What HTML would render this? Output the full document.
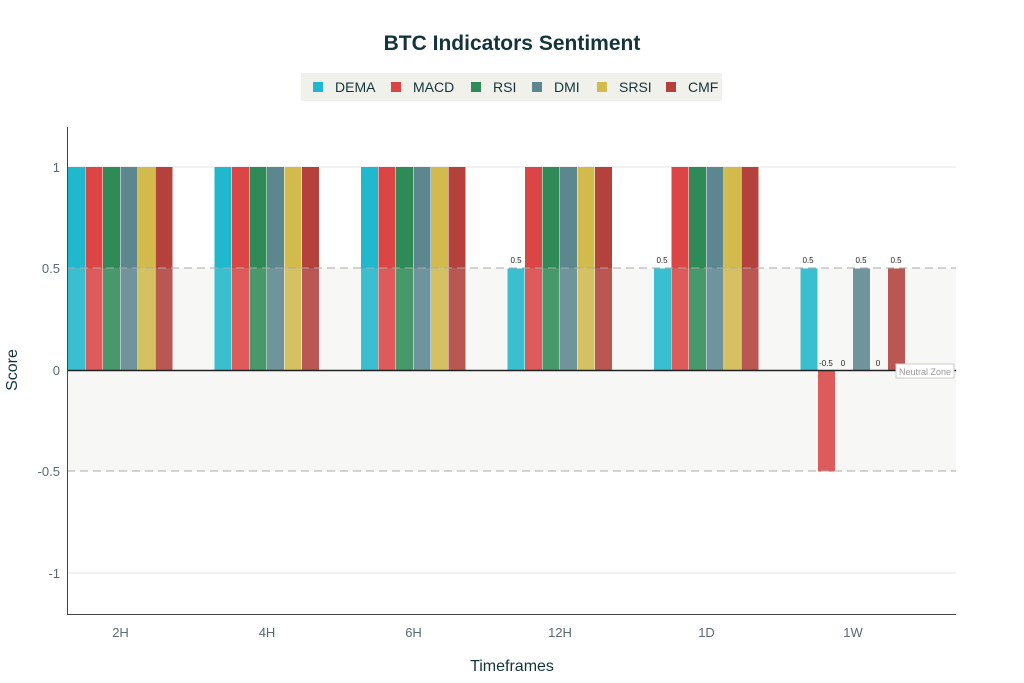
<!DOCTYPE html>
<html><head><style>body{margin:0;background:#fff}svg{display:block}text{font-family:"Liberation Sans",sans-serif}</style></head><body>
<svg width="1024" height="683" viewBox="0 0 1024 683">
<text x="512" y="50" text-anchor="middle" font-size="21" font-weight="bold" fill="#13343b">BTC Indicators Sentiment</text>
<rect x="301" y="73" width="421" height="28" fill="#f1f1ec"/>
<g font-size="14" fill="#13343b">
<rect x="313" y="82" width="10" height="10" fill="#1FB8CD"/><text x="335" y="92">DEMA</text>
<rect x="391" y="82" width="10" height="10" fill="#DB4545"/><text x="413" y="92">MACD</text>
<rect x="471" y="82" width="10" height="10" fill="#2E8B57"/><text x="493" y="92">RSI</text>
<rect x="532" y="82" width="10" height="10" fill="#5D878F"/><text x="554" y="92">DMI</text>
<rect x="597" y="82" width="10" height="10" fill="#D2BA4C"/><text x="619" y="92">SRSI</text>
<rect x="666" y="82" width="10" height="10" fill="#B4413C"/><text x="688" y="92">CMF</text>
</g>
<g stroke="#e3e3e3" stroke-width="1">
<line x1="67" x2="956" y1="167" y2="167"/><line x1="67" x2="956" y1="573" y2="573"/>
</g>
<rect x="67" y="268" width="889" height="203" fill="#f9f9f7"/>
<g>
<rect x="68" y="167" width="17" height="203" fill="#1FB8CD"/><rect x="85.5" y="167" width="17" height="203" fill="#DB4545"/><rect x="103" y="167" width="17" height="203" fill="#2E8B57"/><rect x="120.5" y="167" width="17" height="203" fill="#5D878F"/><rect x="138" y="167" width="17" height="203" fill="#D2BA4C"/><rect x="155.5" y="167" width="17" height="203" fill="#B4413C"/>
<rect x="214.5" y="167" width="17" height="203" fill="#1FB8CD"/><rect x="232" y="167" width="17" height="203" fill="#DB4545"/><rect x="249.5" y="167" width="17" height="203" fill="#2E8B57"/><rect x="267" y="167" width="17" height="203" fill="#5D878F"/><rect x="284.5" y="167" width="17" height="203" fill="#D2BA4C"/><rect x="302" y="167" width="17" height="203" fill="#B4413C"/>
<rect x="361" y="167" width="17" height="203" fill="#1FB8CD"/><rect x="378.5" y="167" width="17" height="203" fill="#DB4545"/><rect x="396" y="167" width="17" height="203" fill="#2E8B57"/><rect x="413.5" y="167" width="17" height="203" fill="#5D878F"/><rect x="431" y="167" width="17" height="203" fill="#D2BA4C"/><rect x="448.5" y="167" width="17" height="203" fill="#B4413C"/>
<rect x="507.5" y="268.5" width="17" height="101.5" fill="#1FB8CD"/><rect x="525" y="167" width="17" height="203" fill="#DB4545"/><rect x="542.5" y="167" width="17" height="203" fill="#2E8B57"/><rect x="560" y="167" width="17" height="203" fill="#5D878F"/><rect x="577.5" y="167" width="17" height="203" fill="#D2BA4C"/><rect x="595" y="167" width="17" height="203" fill="#B4413C"/>
<rect x="654" y="268.5" width="17" height="101.5" fill="#1FB8CD"/><rect x="671.5" y="167" width="17" height="203" fill="#DB4545"/><rect x="689" y="167" width="17" height="203" fill="#2E8B57"/><rect x="706.5" y="167" width="17" height="203" fill="#5D878F"/><rect x="724" y="167" width="17" height="203" fill="#D2BA4C"/><rect x="741.5" y="167" width="17" height="203" fill="#B4413C"/>
<rect x="800.5" y="268.5" width="17" height="101.5" fill="#1FB8CD"/><rect x="818" y="370" width="17" height="101.5" fill="#DB4545"/><rect x="853" y="268.5" width="17" height="101.5" fill="#5D878F"/><rect x="888" y="268.5" width="17" height="101.5" fill="#B4413C"/>
</g>
<rect x="67" y="268" width="889" height="203" fill="#f3f3f0" fill-opacity="0.13"/>
<g stroke="#aaa" stroke-width="1" stroke-dasharray="8,5">
<line x1="67" x2="956" y1="268" y2="268"/><line x1="67" x2="956" y1="471" y2="471"/>
</g>
<line x1="67" x2="956" y1="370.5" y2="370.5" stroke="#222" stroke-width="1.5"/>
<line x1="67.5" x2="67.5" y1="127" y2="614" stroke="#444"/>
<line x1="67" x2="956" y1="614.5" y2="614.5" stroke="#444"/>
<g font-size="13" fill="#5a6a70" text-anchor="end">
<text x="60" y="172">1</text><text x="60" y="273">0.5</text><text x="60" y="375">0</text><text x="60" y="476">-0.5</text><text x="60" y="578">-1</text>
</g>
<g font-size="13" fill="#5a6a70" text-anchor="middle">
<text x="120.5" y="637">2H</text><text x="267" y="637">4H</text><text x="413.5" y="637">6H</text><text x="560" y="637">12H</text><text x="706.5" y="637">1D</text><text x="853" y="637">1W</text>
</g>
<text x="512" y="671" text-anchor="middle" font-size="16" fill="#13343b">Timeframes</text>
<text x="17" y="370" text-anchor="middle" font-size="16" fill="#13343b" transform="rotate(-90 17 370)">Score</text>
<g font-size="8" fill="#222" text-anchor="middle">
<text x="516" y="263">0.5</text><text x="662" y="263">0.5</text><text x="808" y="263">0.5</text>
<text x="861" y="263">0.5</text><text x="896" y="263">0.5</text>
<text x="826" y="366">-0.5</text><text x="843" y="366">0</text><text x="878" y="366">0</text>
</g>
<rect x="896" y="364" width="58" height="14" fill="#fff" stroke="#ccc"/>
<text x="925" y="375" text-anchor="middle" font-size="9" fill="#999">Neutral Zone</text>
</svg>
</body></html>
